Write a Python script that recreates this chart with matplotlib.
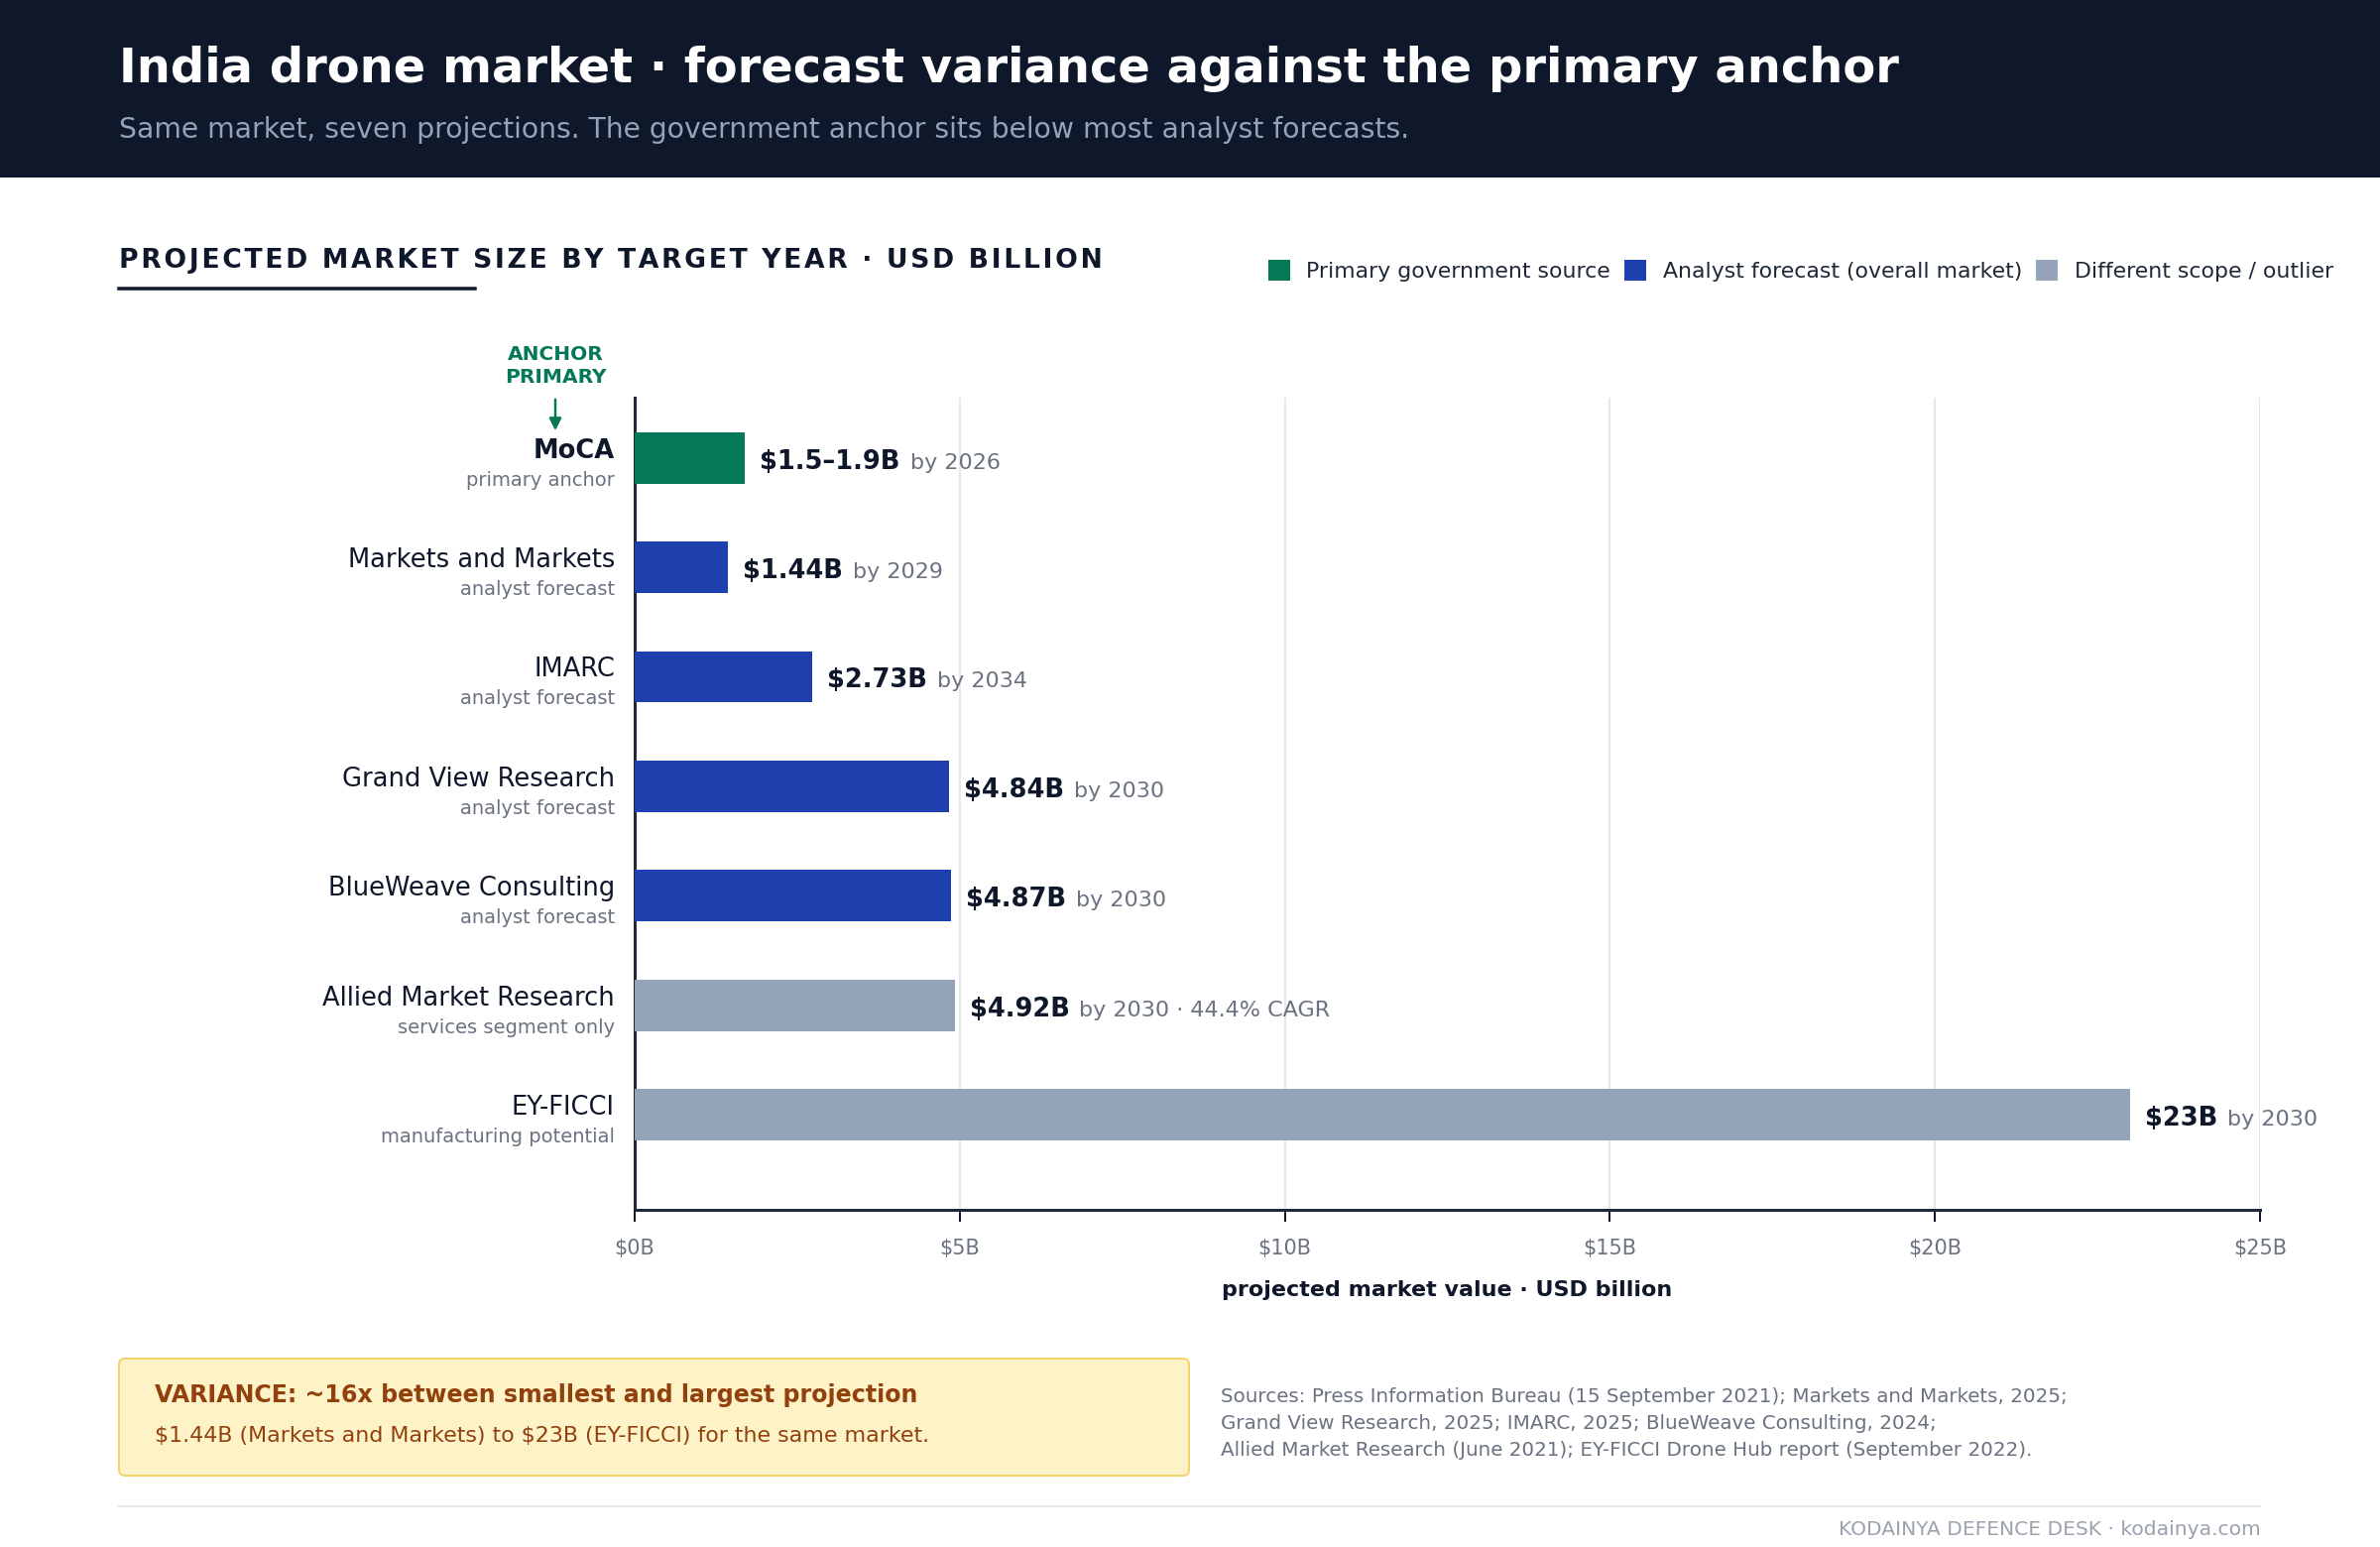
import matplotlib
matplotlib.use("Agg")
import matplotlib.pyplot as plt
from matplotlib.patches import Patch, Rectangle, FancyBboxPatch, FancyArrowPatch
from matplotlib.lines import Line2D

# Taille de la figure en pixels
W, H = 2400, 1560
DPI = 100

# Données
sources = ["MoCA", "Markets and Markets", "IMARC", "Grand View Research",
           "BlueWeave Consulting", "Allied Market Research", "EY-FICCI"]
notes = ["primary anchor", "analyst forecast", "analyst forecast", "analyst forecast",
         "analyst forecast", "services segment only", "manufacturing potential"]
values = [1.7, 1.44, 2.73, 4.84, 4.87, 4.92, 23.0]
value_labels = ["$1.5–1.9B", "$1.44B", "$2.73B", "$4.84B", "$4.87B", "$4.92B", "$23B"]
year_notes = ["by 2026", "by 2029", "by 2034", "by 2030", "by 2030",
              "by 2030 · 44.4% CAGR", "by 2030"]
categories = ["primary", "analyst", "analyst", "analyst", "analyst", "scope", "scope"]
x_ticks = [0, 5, 10, 15, 20, 25]

legend_labels = {
    "primary": "Primary government source",
    "analyst": "Analyst forecast (overall market)",
    "scope": "Different scope / outlier",
}

COULEURS = {"primary": "#047857", "analyst": "#1e40af", "scope": "#94a3b8"}
DARK = "#0f172a"
GREY = "#6b7280"

plt.rcParams["text.parse_math"] = False


def fx(px):
    return px / W


def fy(py):
    return 1 - py / H


def pt(px):
    return px * 72 / DPI


fig = plt.figure(figsize=(W / DPI, H / DPI), dpi=DPI)
fig.patch.set_facecolor("white")

# === En-tête ===
fig.add_artist(Rectangle((0, fy(179)), 1, 179 / H, transform=fig.transFigure,
                         facecolor=DARK, edgecolor="none", zorder=0))
fig.text(fx(120), fy(83), "India drone market · forecast variance against the primary anchor",
         color="white", fontsize=34.6, fontweight="bold", va="baseline")
fig.text(fx(120), fy(139), "Same market, seven projections. The government anchor sits below most analyst forecasts.",
         color="#94a3b8", fontsize=20.3, va="baseline")

# Titre de section (espacé)
heading = "PROJECTED MARKET SIZE BY TARGET YEAR · USD BILLION"
fig.text(fx(120), fy(270), "\u200a".join(heading), color=DARK, fontsize=19.2,
         fontweight="bold", va="baseline")
fig.add_artist(Line2D([fx(120), fx(479)], [fy(291), fy(291)], color=DARK, lw=pt(3.5),
                      transform=fig.transFigure))

# Légende
handles = [Patch(facecolor=COULEURS[k], edgecolor="none", label=v) for k, v in legend_labels.items()]
leg = fig.legend(handles=handles, loc="center right", bbox_to_anchor=(fx(2353), fy(273)),
                 ncol=3, frameon=False, fontsize=15.8, handlelength=1.0, handleheight=1.05,
                 handletextpad=0.75, columnspacing=0.65, borderpad=0, borderaxespad=0)
for t in leg.get_texts():
    t.set_color("#1f2937")

# === Graphique ===
ax = fig.add_axes([fx(640), fy(1220), (2279 - 640) / W, (1220 - 401) / H])
y = list(range(len(sources)))
ax.barh(y, values, height=0.47, color=[COULEURS[c] for c in categories], zorder=3)
ax.set_xlim(0, 25)
ax.set_ylim(len(sources) - 0.13, -0.55)
ax.set_yticks([])
ax.set_xticks(x_ticks)
ax.set_xticklabels([f"${v}B" for v in x_ticks], fontsize=15, color=GREY)
ax.tick_params(axis="x", length=pt(12), width=pt(2), color=DARK, pad=12.5)
ax.xaxis.grid(True, color="#e5e7eb", lw=pt(2))
ax.set_axisbelow(True)
for s in ["top", "right"]:
    ax.spines[s].set_visible(False)
for s in ["left", "bottom"]:
    ax.spines[s].set_color("#1e293b")
    ax.spines[s].set_linewidth(pt(3))

# Noms et sous-titres à gauche
for i, (nom, note) in enumerate(zip(sources, notes)):
    ax.annotate(nom, xy=(0, i), xytext=(pt(-20), 0), textcoords="offset points",
                ha="right", va="baseline", fontsize=18.5, color=DARK,
                fontweight="bold" if categories[i] == "primary" else "normal")
    ax.annotate(note, xy=(0, i), xytext=(pt(-20), pt(-28)), textcoords="offset points",
                ha="right", va="baseline", fontsize=14, color=GREY)

# Valeurs au bout des barres
val_texts = []
for i, (v, lab) in enumerate(zip(values, value_labels)):
    t = ax.annotate(lab, xy=(v, i), xytext=(pt(15), pt(-11)), textcoords="offset points",
                    ha="left", va="baseline", fontsize=18.5, fontweight="bold", color=DARK)
    val_texts.append(t)

fig.canvas.draw()
renderer = fig.canvas.get_renderer()
for i, (v, t, yn) in enumerate(zip(values, val_texts, year_notes)):
    bb = t.get_window_extent(renderer)
    x0 = ax.transData.transform((v, i))[0]
    dx = (bb.x1 - x0) * 72 / DPI + 7
    ax.annotate(yn, xy=(v, i), xytext=(dx, pt(-11)), textcoords="offset points",
                ha="left", va="baseline", fontsize=16, color=GREY)

# Étiquette de l'axe x
fig.text(fx(1459.5), fy(1301), "projected market value · USD billion", ha="center", va="center",
         fontsize=16, fontweight="bold", color=DARK)

# Annotation ancre
fig.text(fx(560), fy(369), "ANCHOR\nPRIMARY", ha="center", va="center", fontsize=14.5,
         fontweight="bold", color=COULEURS["primary"], linespacing=1.3)
fig.add_artist(FancyArrowPatch(
    (fx(560), fy(400)), (fx(560), fy(437)), transform=fig.transFigure,
    arrowstyle="-|>", mutation_scale=18, color=COULEURS["primary"], lw=pt(2.5)))

# === Encadré de variance ===
box = FancyBboxPatch((120 / DPI, (H - 1488) / DPI), (1199 - 120) / DPI, (1488 - 1370) / DPI,
                     boxstyle="round,pad=0,rounding_size=0.06", transform=fig.dpi_scale_trans,
                     facecolor="#fef3c7", edgecolor="#f3d36b", lw=pt(2))
fig.add_artist(box)
fig.text(fx(156), fy(1407), "VARIANCE: ~16x between smallest and largest projection",
         va="center", fontsize=17.1, fontweight="bold", color="#92400e")
fig.text(fx(156), fy(1448), "$1.44B (Markets and Markets) to $23B (EY-FICCI) for the same market.",
         va="center", fontsize=15.9, color="#92400e")

# Sources
fig.text(fx(1231), fy(1399),
         "Sources: Press Information Bureau (15 September 2021); Markets and Markets, 2025;\n"
         "Grand View Research, 2025; IMARC, 2025; BlueWeave Consulting, 2024;\n"
         "Allied Market Research (June 2021); EY-FICCI Drone Hub report (September 2022).",
         va="top", fontsize=14.3, color=GREY, linespacing=1.54)

# Pied de page
fig.add_artist(Line2D([fx(120), fx(2279)], [fy(1519), fy(1519)], color="#e5e7eb", lw=pt(2),
                      transform=fig.transFigure))
fig.text(fx(2280), fy(1543), "KODAINYA DEFENCE DESK · kodainya.com", ha="right", va="center",
         fontsize=14.6, color="#9ca3af")

fig.savefig("out.png", dpi=DPI, facecolor="white")
